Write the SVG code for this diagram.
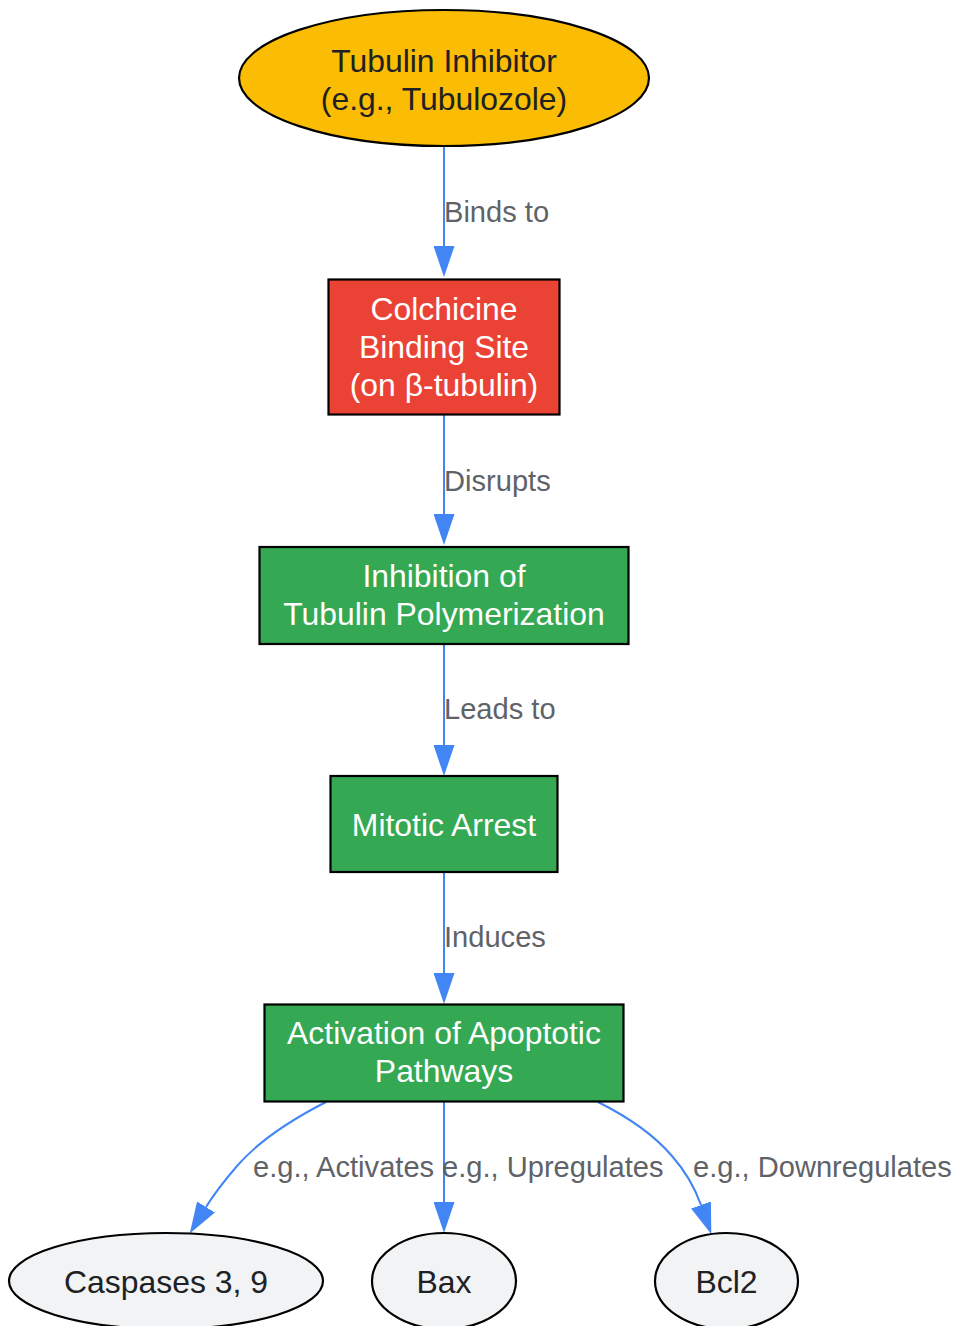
<svg xmlns="http://www.w3.org/2000/svg" width="956" height="1326" viewBox="0 0 956 1326">
<style>
.node-label{font-family:"Liberation Sans",Arial,sans-serif;font-size:31.9px;text-anchor:middle}
.dark{fill:#202124}
.light{fill:#ffffff}
.edge-label{font-family:"Liberation Sans",Arial,sans-serif;font-size:29.1px;fill:#5f6368}
.shape{stroke:#000000;stroke-width:2.2}
.edge{fill:none;stroke:#4285F4;stroke-width:2}
</style>
<defs>
<marker id="arrow" viewBox="0 0 31 21" refX="0" refY="10.5" markerWidth="31" markerHeight="21" markerUnits="userSpaceOnUse" orient="auto">
<path d="M0,0 L31,10.5 L0,21 z" fill="#4285F4"/>
</marker>
</defs>
<rect width="956" height="1326" fill="#ffffff"/>
<g id="connectors">
<path class="edge" d="M444,147 L444,246" marker-end="url(#arrow)"/>
<path class="edge" d="M444,415 L444,514" marker-end="url(#arrow)"/>
<path class="edge" d="M444,644 L444,745" marker-end="url(#arrow)"/>
<path class="edge" d="M444,873 L444,973" marker-end="url(#arrow)"/>
<path class="edge" d="M326,1102 C283,1124 256,1144 237,1166 C225,1180 214,1194 206,1207" marker-end="url(#arrow)"/>
<path class="edge" d="M444,1102 L444,1202" marker-end="url(#arrow)"/>
<path class="edge" d="M598,1102 C630,1118 655,1136 672,1156 C686,1172 695,1188 701,1205" marker-end="url(#arrow)"/>
<text class="edge-label" x="444" y="222">Binds to</text>
<text class="edge-label" x="444" y="491">Disrupts</text>
<text class="edge-label" x="444" y="719">Leads to</text>
<text class="edge-label" x="444" y="947">Induces</text>
<text class="edge-label" x="253" y="1177">e.g., Activates</text>
<text class="edge-label" x="442" y="1177">e.g., Upregulates</text>
<text class="edge-label" x="693" y="1177">e.g., Downregulates</text>
</g>
<g id="inhibitor">
<ellipse class="shape" cx="444" cy="78" rx="205" ry="68" fill="#FBBC04"/>
<text class="node-label dark" x="444" y="71.5">Tubulin Inhibitor</text>
<text class="node-label dark" x="444" y="110">(e.g., Tubulozole)</text>
</g>
<g id="binding_site">
<rect class="shape" x="328.5" y="279.5" width="231" height="135" fill="#EA4335"/>
<text class="node-label light" x="444" y="320">Colchicine</text>
<text class="node-label light" x="444" y="358">Binding Site</text>
<text class="node-label light" x="444" y="396">(on β-tubulin)</text>
</g>
<g id="inhibition">
<rect class="shape" x="259.5" y="547" width="369" height="97" fill="#34A853"/>
<text class="node-label light" x="444" y="587">Inhibition of</text>
<text class="node-label light" x="444" y="625">Tubulin Polymerization</text>
</g>
<g id="mitotic_arrest">
<rect class="shape" x="330.5" y="776" width="227" height="96" fill="#34A853"/>
<text class="node-label light" x="444" y="836">Mitotic Arrest</text>
</g>
<g id="apoptosis">
<rect class="shape" x="264.5" y="1004.5" width="359" height="97" fill="#34A853"/>
<text class="node-label light" x="444" y="1044">Activation of Apoptotic</text>
<text class="node-label light" x="444" y="1082">Pathways</text>
</g>
<g id="caspases">
<ellipse class="shape" cx="166" cy="1281" rx="157" ry="48" fill="#F1F3F4"/>
<text class="node-label dark" x="166" y="1292.5">Caspases 3, 9</text>
</g>
<g id="bax">
<ellipse class="shape" cx="444" cy="1281" rx="72" ry="48" fill="#F1F3F4"/>
<text class="node-label dark" x="444" y="1292.5">Bax</text>
</g>
<g id="bcl2">
<ellipse class="shape" cx="726.5" cy="1281" rx="71.5" ry="48" fill="#F1F3F4"/>
<text class="node-label dark" x="726.5" y="1292.5">Bcl2</text>
</g>
</svg>
